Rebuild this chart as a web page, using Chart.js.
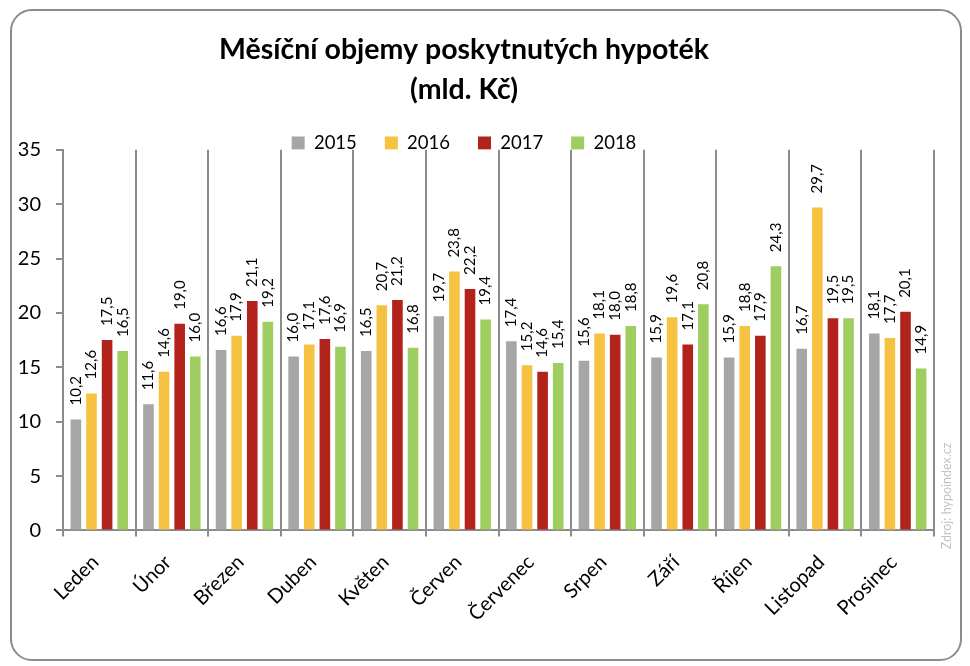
<!DOCTYPE html>
<html lang="cs">
<head>
    <meta charset="UTF-8">
    <title>Měsíční objemy poskytnutých hypoték</title>
    <script src="https://cdn.jsdelivr.net/npm/chart.js"></script>
    <style>
        body {
            margin: 0;
            background: #fff;
            overflow: hidden;
        }
        .frame {
            position: absolute;
            left: 10px;
            top: 9px;
            width: 948px;
            height: 648px;
            border: 2px solid #8c8c8c;
            border-radius: 22px;
        }
        canvas {
            position: absolute;
            left: 0;
            top: 0;
        }
    </style>
</head>
<body>

<div class="frame"></div>
<canvas id="graf" width="970" height="666"></canvas>

<script>
// data (mld. Kč)
const mesice = ['Leden', 'Únor', 'Březen', 'Duben', 'Květen', 'Červen', 'Červenec', 'Srpen', 'Září', 'Říjen', 'Listopad', 'Prosinec'];
const roky = ['2015', '2016', '2017', '2018'];
const objem2015 = [10.2, 11.6, 16.6, 16.0, 16.5, 19.7, 17.4, 15.6, 15.9, 15.9, 16.7, 18.1];
const objem2016 = [12.6, 14.6, 17.9, 17.1, 20.7, 23.8, 15.2, 18.1, 19.6, 18.8, 29.7, 17.7];
const objem2017 = [17.5, 19.0, 21.1, 17.6, 21.2, 22.2, 14.6, 18.0, 17.1, 17.9, 19.5, 20.1];
const objem2018 = [16.5, 16.0, 19.2, 16.9, 16.8, 19.4, 15.4, 18.8, 20.8, 24.3, 19.5, 14.9];
const osaY = [0, 5, 10, 15, 20, 25, 30, 35];

const barvy = ['#a6a6a6', '#f5c242', '#b2231c', '#9dce5f'];
const serie = [objem2015, objem2016, objem2017, objem2018];
const seda = '#8c8c8c';
const pismo = 'Lato, "Open Sans", sans-serif';

// popisky hodnot nad sloupci (svisle)
const popiskyPlugin = {
    id: 'popisky',
    afterDatasetsDraw(chart) {
        const ctx = chart.ctx;
        ctx.save();
        ctx.font = '15px ' + pismo;
        ctx.fillStyle = '#000';
        ctx.textAlign = 'left';
        ctx.textBaseline = 'middle';
        chart.data.datasets.forEach((ds, i) => {
            chart.getDatasetMeta(i).data.forEach((bar, j) => {
                const txt = ds.data[j].toFixed(1).replace('.', ',');
                ctx.save();
                ctx.translate(bar.x, bar.y - 14);
                ctx.rotate(-Math.PI / 2);
                ctx.fillText(txt, 0, 0);
                ctx.restore();
            });
        });
        // zdroj
        ctx.font = '12.5px ' + pismo;
        ctx.fillStyle = '#c4c4c4';
        ctx.textAlign = 'center';
        ctx.translate(947, 496);
        ctx.rotate(-Math.PI / 2);
        ctx.fillText('Zdroj: hypoindex.cz', 0, 0);
        ctx.restore();
    }
};

new Chart(document.getElementById('graf'), {
    type: 'bar',
    data: {
        labels: mesice,
        datasets: roky.map((r, i) => ({
            label: r,
            data: serie[i],
            backgroundColor: barvy[i],
            categoryPercentage: 0.86,
            barPercentage: 0.68
        }))
    },
    options: {
        responsive: false,
        animation: false,
        devicePixelRatio: 1,
        layout: {
            padding: { left: -6, right: 36, top: 30, bottom: 26 }
        },
        plugins: {
            title: {
                display: true,
                text: ['Měsíční objemy poskytnutých hypoték', '(mld. Kč)'],
                color: '#000',
                font: { family: pismo, size: 28.5, weight: 'bold', lineHeight: 1.4 },
                padding: { top: 0, bottom: -4 }
            },
            legend: {
                display: true,
                maxHeight: 44,
                labels: {
                    color: '#000',
                    font: { family: pismo, size: 18.5 },
                    boxWidth: 13,
                    boxHeight: 13,
                    padding: 28
                }
            },
            tooltip: { enabled: false }
        },
        scales: {
            x: {
                grid: {
                    offset: true,
                    color: seda,
                    lineWidth: 2,
                    tickLength: 6,
                    drawOnChartArea: true
                },
                border: { display: true, color: seda, width: 2 },
                ticks: {
                    color: '#000',
                    font: { family: pismo, size: 20 },
                    maxRotation: 45,
                    minRotation: 45,
                    padding: 14,
                    labelOffset: -4
                }
            },
            y: {
                min: 0,
                max: 35,
                afterFit(scale) { scale.width = 69; },
                afterBuildTicks(scale) { scale.ticks = osaY.map(v => ({ value: v })); },
                grid: {
                    drawOnChartArea: false,
                    color: seda,
                    lineWidth: 2,
                    tickLength: 7
                },
                border: { display: true, color: seda, width: 2 },
                ticks: {
                    color: '#000',
                    font: { family: pismo, size: 20 },
                    padding: 15
                }
            }
        }
    },
    plugins: [popiskyPlugin]
});
</script>

</body>
</html>
